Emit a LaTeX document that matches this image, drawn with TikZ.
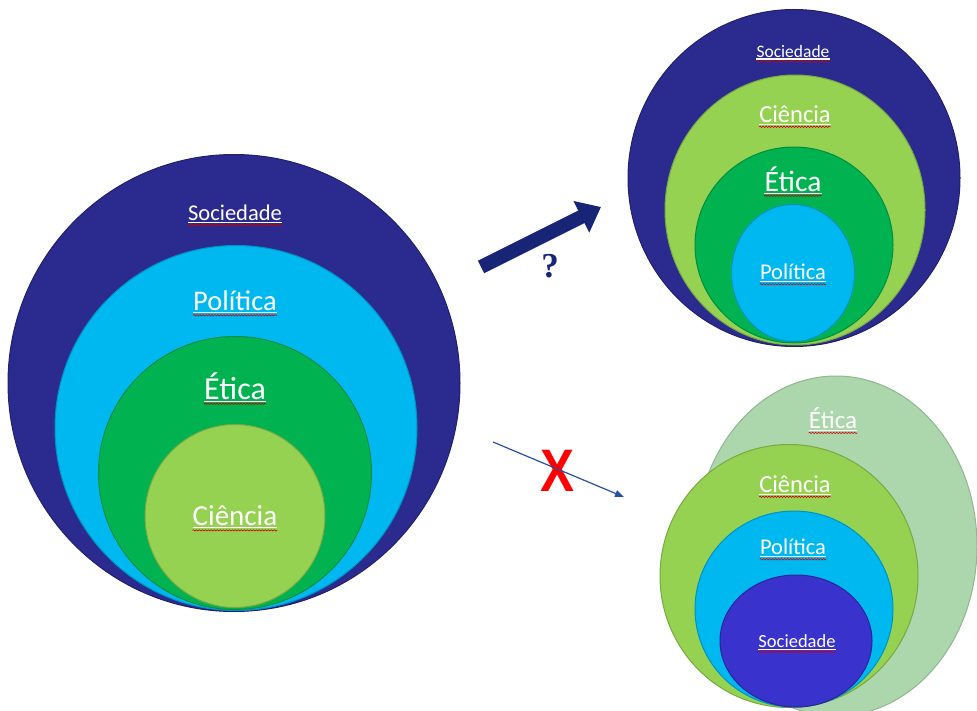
\documentclass[tikz,border=0pt]{standalone}
\usepackage{fontspec}
\setmainfont{Carlito}
\newfontfamily\qfont{Liberation Serif}
\newfontfamily\xfont{Liberation Sans}
\usetikzlibrary{shapes.geometric,arrows.meta,decorations.pathmorphing}

\definecolor{socblue}{RGB}{43,43,143}
\definecolor{socviolet}{RGB}{58,50,205}
\definecolor{polblue}{RGB}{0,184,240}
\definecolor{etigreen}{RGB}{0,178,80}
\definecolor{etipale}{RGB}{172,214,172}
\definecolor{ciegreen}{RGB}{150,210,82}
\definecolor{arrownavy}{RGB}{24,36,118}
\definecolor{thinblue}{RGB}{40,80,160}

\begin{document}
\begin{tikzpicture}[x=1pt,y=-1pt,
    ring/.style={ellipse,inner sep=0pt,line width=1pt},
    tag/.style={text=white,inner sep=0pt},
    uline/.style={draw=white,line width=1.1pt},
    spell/.style={draw=red!80!black,line width=0.6pt,decorate,
                  decoration={snake,amplitude=0.7pt,segment length=3pt}}]
\useasboundingbox (0,0) rectangle (977,711);

% left: Sociedade > Politica > Etica > Ciencia
\node[ring,fill=socblue,draw=socblue!75!black,minimum width=452pt,minimum height=457pt] (sL) at (234,383) {};
\node[ring,fill=polblue,draw=polblue!80!black,minimum width=362pt,minimum height=365pt] (pL) at (236,428) {};
\node[ring,fill=etigreen,draw=etigreen!80!black,minimum width=273pt,minimum height=273pt] (eL) at (235,473) {};
\node[ring,fill=ciegreen,draw=ciegreen!80!black,minimum width=180pt,minimum height=183pt] (cL) at (235,516) {};
\node[tag,font=\fontsize{22.5}{22}\selectfont] (tsL) at (235,213) {Sociedade};
\node[tag,font=\fontsize{28.5}{28}\selectfont] (tpL) at (235,301) {Política};
\node[tag,font=\fontsize{32}{31}\selectfont] (teL) at (235,386) {Ética};
\node[tag,font=\fontsize{29}{28}\selectfont] (tcL) at (235,516) {Ciência};

% top right: Sociedade > Ciencia > Etica > Politica
\node[ring,fill=socblue,draw=socblue!75!black,minimum width=332pt,minimum height=337pt] (sT) at (794,178) {};
\node[ring,fill=ciegreen,draw=ciegreen!80!black,minimum width=260pt,minimum height=270pt] (cT) at (795,210) {};
\node[ring,fill=etigreen,draw=etigreen!80!black,minimum width=198pt,minimum height=196pt] (eT) at (794,245) {};
\node[ring,fill=polblue,draw=polblue!80!black,minimum width=123pt,minimum height=137pt] (pT) at (793,273) {};
\node[tag,font=\fontsize{17.5}{17}\selectfont] (tsT) at (793,51) {Sociedade};
\node[tag,font=\fontsize{24.5}{24}\selectfont] (tcT) at (795,114) {Ciência};
\node[tag,font=\fontsize{29.5}{29}\selectfont] (teT) at (793,179) {Ética};
\node[tag,font=\fontsize{22.5}{22}\selectfont] (tpT) at (793,272) {Política};

% bottom right: Etica > Ciencia > Politica > Sociedade
\node[ring,fill=etipale,draw=etipale!85!black,minimum width=282pt,minimum height=340pt] (eB) at (836,546) {};
\node[ring,fill=ciegreen,draw=ciegreen!80!black,minimum width=258pt,minimum height=263pt] (cB) at (789,576) {};
\node[ring,fill=polblue,draw=polblue!80!black,minimum width=198pt,minimum height=196pt] (pB) at (794,609) {};
\node[ring,fill=socviolet,draw=socviolet!75!black,minimum width=152pt,minimum height=132pt] (sB) at (796,641) {};
\node[tag,font=\fontsize{25}{25}\selectfont] (teB) at (833,418) {Ética};
\node[tag,font=\fontsize{24.5}{24}\selectfont] (tcB) at (795,484) {Ciência};
\node[tag,font=\fontsize{22.5}{22}\selectfont] (tpB) at (793,547) {Política};
\node[tag,font=\fontsize{18.5}{18}\selectfont] (tsB) at (797,641) {Sociedade};

\foreach \t in {tsL,tpL,teL,tcL,tsT,tcT,teT,tpT,teB,tcB,tpB,tsB} {
  \draw[uline] ([yshift=-2pt]\t.base west) -- ([yshift=-2pt]\t.base east);
  \draw[spell] ([yshift=-4.5pt]\t.base west) -- ([yshift=-4.5pt]\t.base east);
}

% arrows
\coordinate (qa) at (481,267);
\coordinate (qb) at (601,207);
\draw[arrownavy,line width=14pt,-{Triangle[length=22pt,width=34pt]}] (qa) -- (qb);
\node[text=arrownavy,font=\qfont\bfseries\fontsize{35}{35}\selectfont] (q) at (550,266) {?};

\node[text=red,font=\xfont\bfseries\fontsize{60}{60}\selectfont] (x) at (558,471) {\scalebox{0.85}[1]{X}};
\coordinate (xa) at (493,442);
\coordinate (xb) at (624,497);
\draw[thinblue,line width=1.2pt,-{Triangle[length=9pt,width=7pt]}] (xa) -- (xb);
\end{tikzpicture}
\end{document}
